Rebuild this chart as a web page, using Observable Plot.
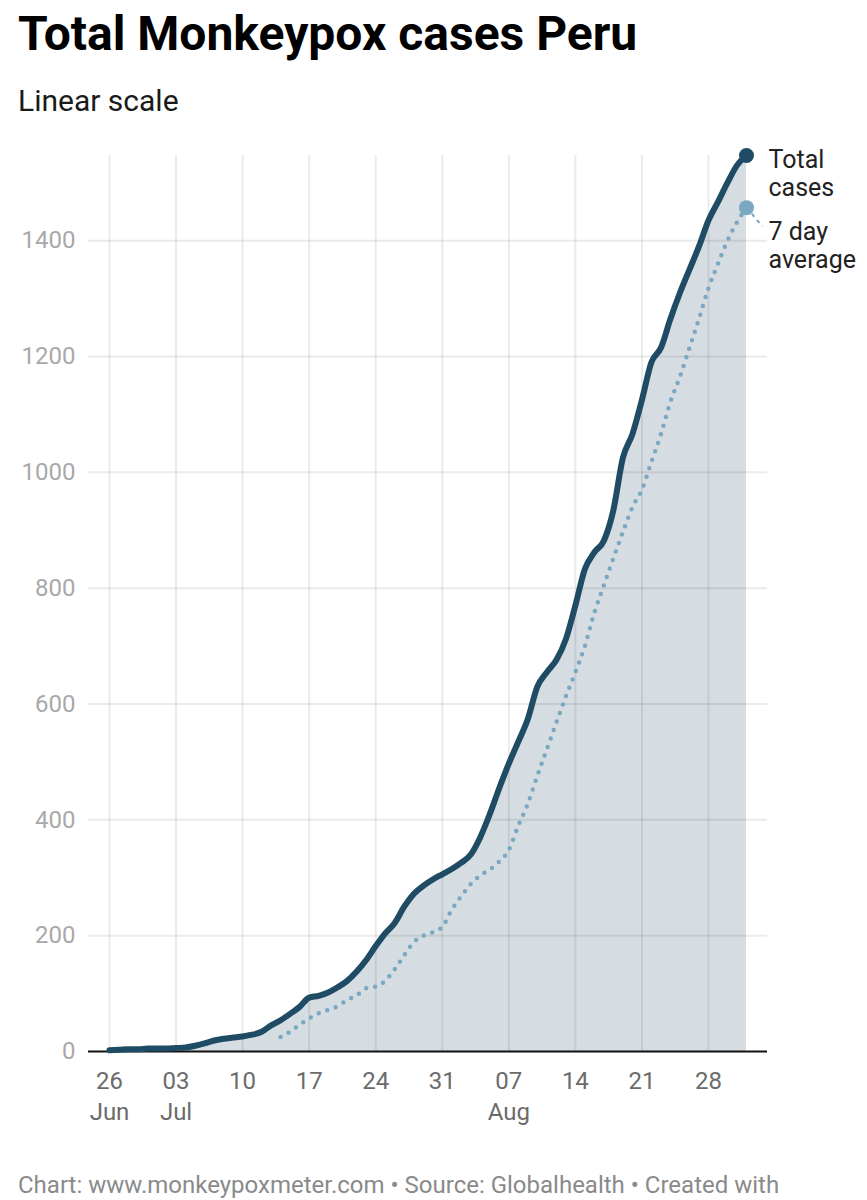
<!DOCTYPE html>
<html><head><meta charset="utf-8">
<script src="https://cdn.jsdelivr.net/npm/d3@7"></script>
<script src="https://cdn.jsdelivr.net/npm/@observablehq/plot@0.6"></script>
<style>
body{margin:0;background:#fff;font-family:Roboto,sans-serif;}
#wrap{position:relative;width:867px;height:1200px;overflow:hidden;}
.t{position:absolute;left:18px;white-space:nowrap;line-height:1;}
#title{top:10px;font-size:48px;font-weight:700;color:#000;}
#sub{top:86px;font-size:30px;color:#1a1a1a;}
#foot{top:1173px;font-size:24px;color:#8a8a8a;}
#chart{position:absolute;left:0;top:130px;}
</style></head>
<body><div id="wrap">
<div id="title" class="t">Total Monkeypox cases Peru</div>
<div id="sub" class="t">Linear scale</div>
<div id="chart"></div>
<div id="foot" class="t">Chart: www.monkeypoxmeter.com • Source: Globalhealth • Created with</div>
</div>
<script>
// Daily cumulative cases, starting 2022-06-26
const totalStart = "2022-06-26";
const totalCases = [
  2,3,4,4,5,
  5,5,6,7,10,14,19,22,24,26,29,34,45,54,65,77,93,96,102,111,122,138,158,182,204,222,250,272,286,297,306,
  315,326,340,370,410,455,497,535,574,630,655,676,712,770,833,862,882,935,1025,1066,1125,1190,1215,1265,1310,1350,1390,1435,1467,1500,1530,
  1547
];
// 7 day average, starting 2022-07-14
const avgStart = "2022-07-14";
const avgCases = [
  25,34,46,57,66,72,78,89,97,109,112,122,142,166,189,200,206,215,
  245,268,289,304,314,328,348,390,428,476,522,568,613,655,700,758,805,852,897,940,970,1018,1066,1122,1165,1215,1265,1318,1360,1400,1432,
  1457
];
const xTickDates = ["2022-06-26","2022-07-03","2022-07-10","2022-07-17","2022-07-24","2022-07-31","2022-08-07","2022-08-14","2022-08-21","2022-08-28"];
const xTickLabels = ["26\nJun","03\nJul","10","17","24","31","07\nAug","14","21","28"];
const yTicks = [0,200,400,600,800,1000,1200,1400];
const seriesNames = ["Total\ncases","7 day\naverage"];
const xDomain = ["2022-06-23T19:00Z","2022-09-03T05:00Z"];
const yDomain = [0,1547];

const parse = d3.utcParse("%Y-%m-%d");
const toSeries = (start, vals) => vals.map((v,i) => ({date: d3.utcDay.offset(parse(start), i), value: v}));
const total = toSeries(totalStart, totalCases);
const avg = toSeries(avgStart, avgCases);
const ticks = xTickDates.map(parse);
const labelOf = new Map(ticks.map((d,i) => [+d, xTickLabels[i]]));
const lastT = total[total.length-1], lastA = avg[avg.length-1];

const dark = "#1f4b64", light = "#7ba8c1";

const chart = Plot.plot({
  width: 867, height: 1005,
  marginTop: 25, marginBottom: 84, marginLeft: 88, marginRight: 100,
  style: {fontFamily: "Roboto, sans-serif", background: "transparent"},
  x: {type: "utc", domain: xDomain.map(d => new Date(d))},
  y: {domain: yDomain},
  marks: [
    Plot.areaY(total, {x: "date", y: "value", fill: "#d5dde2", curve: "monotone-x"}),
    Plot.gridX(ticks, {stroke: "#000", strokeOpacity: 0.08, strokeWidth: 2}),
    Plot.gridY(yTicks.slice(1), {stroke: "#000", strokeOpacity: 0.08, strokeWidth: 2}),
    Plot.ruleY([0], {stroke: "#111", strokeWidth: 2}),
    Plot.line(avg, {x: "date", y: "value", stroke: light, strokeWidth: 4.5, strokeDasharray: "0 9", strokeLinecap: "round", curve: "monotone-x"}),
    Plot.line(total, {x: "date", y: "value", stroke: dark, strokeWidth: 6, strokeLinejoin: "round", strokeLinecap: "round", curve: "monotone-x"}),
    Plot.link([lastA], {x1: "date", y1: "value", x2: d => d3.utcHour.offset(d.date, 40), y2: d => d.value - 32, stroke: light, strokeWidth: 2, strokeDasharray: "4 4"}),
    Plot.dot([lastA], {x: "date", y: "value", r: 7.5, fill: light}),
    Plot.dot([lastT], {x: "date", y: "value", r: 7.5, fill: dark}),
    Plot.text([lastT], {x: "date", y: "value", text: () => seriesNames[0], dx: 22, dy: -7, textAnchor: "start", lineAnchor: "top", lineHeight: 1.12, fontSize: 25, fill: "#222"}),
    Plot.text([lastA], {x: "date", y: "value", text: () => seriesNames[1], dx: 22, dy: 12, textAnchor: "start", lineAnchor: "top", lineHeight: 1.14, fontSize: 25, fill: "#222"}),
    Plot.axisY({ticks: yTicks, tickFormat: d => String(d), tickSize: 0, tickPadding: 13, fontSize: 24, fill: "#a9a9a9", label: null}),
    Plot.axisX({ticks: ticks, tickFormat: d => labelOf.get(+d), tickSize: 0, tickPadding: 15, fontSize: 24, fill: "#6b6b6b", lineHeight: 1.3, label: null})
  ]
});
document.getElementById("chart").appendChild(chart);
</script>
</body></html>
